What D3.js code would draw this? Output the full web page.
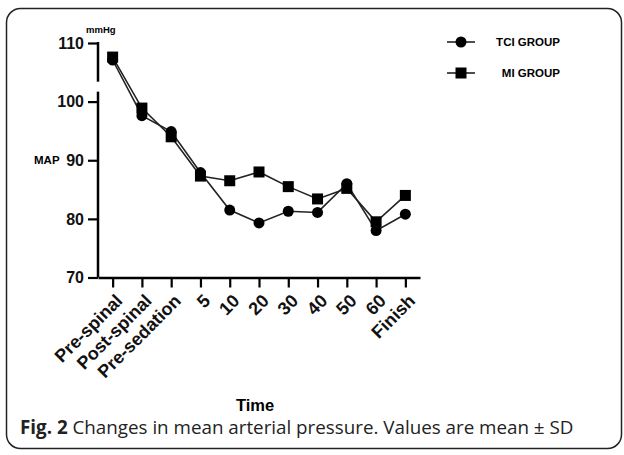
<!DOCTYPE html>
<html>
<head>
<meta charset="utf-8">
<script src="https://cdn.jsdelivr.net/npm/d3@7"></script>
<style>
  body { margin: 0; background: #fff; }
  svg { display: block; }
</style>
</head>
<body>
<div class="chart"></div>
<script>
// time points on the x axis
const timePoints = ['Pre-spinal', 'Post-spinal', 'Pre-sedation', '5', '10', '20', '30', '40', '50', '60', 'Finish']
// mean arterial pressure, mmHg
const tciValues = [107.1, 97.6, 94.9, 87.9, 81.5, 79.3, 81.3, 81.1, 86.0, 78.0, 80.8]
const miValues = [107.6, 98.9, 94.0, 87.3, 86.5, 88.0, 85.5, 83.4, 85.2, 79.5, 84.0]
const yTicks = [70, 80, 90, 100, 110]
const seriesNames = ['TCI GROUP', 'MI GROUP']

const width = 624
const height = 455
const font = 'Liberation Sans, Arial, sans-serif'

const svg = d3.select('.chart')
    .append('svg')
    .attr('width', width)
    .attr('height', height)

// rounded frame round the figure
svg.append('rect')
    .attr('x', 6.5).attr('y', 8.5)
    .attr('width', 615).attr('height', 440)
    .attr('rx', 14)
    .attr('fill', 'none')
    .attr('stroke', '#222')
    .attr('stroke-width', 1.5)

const xScale = d3.scalePoint()
    .domain(timePoints)
    .range([98, 420])
    .padding(0.5)

const yScale = d3.scaleLinear()
    .domain([70, 110])
    .range([277.5, 43])

// x axis
const xAxis = svg.append('g')
    .attr('transform', `translate(0, ${yScale(70)})`)
    .call(d3.axisBottom(xScale).tickSize(10).tickSizeOuter(0))
xAxis.select('.domain').attr('stroke-width', 2.5)
xAxis.selectAll('.tick line').attr('stroke-width', 2.2)
xAxis.selectAll('.tick text')
    .attr('font-family', font)
    .attr('font-weight', 'bold')
    .attr('font-size', 18)
    .attr('fill', '#111')
    .attr('text-anchor', 'end')
    .attr('x', 0).attr('y', 0).attr('dy', '0.35em')
    .attr('transform', 'translate(6, 20) rotate(-45)')

// y axis with a break between 100 and 110
const yAxis = svg.append('g')
    .attr('transform', `translate(${xScale.range()[0]}, 0)`)
    .call(d3.axisLeft(yScale).tickValues(yTicks).tickSize(10).tickSizeOuter(0).tickPadding(4))
yAxis.select('.domain').remove()
yAxis.selectAll('.tick line').attr('stroke-width', 2.2)
yAxis.selectAll('.tick text')
    .attr('font-family', font)
    .attr('font-weight', 'bold')
    .attr('font-size', 16)
    .attr('fill', '#111')

const breakTop = 103.4
const breakBottom = 101.7
yAxis.append('line')
    .attr('x1', 0).attr('x2', 0)
    .attr('y1', yScale(110) - 1).attr('y2', yScale(breakTop))
    .attr('stroke', '#000').attr('stroke-width', 2.5)
yAxis.append('line')
    .attr('x1', 0).attr('x2', 0)
    .attr('y1', yScale(breakBottom)).attr('y2', yScale(70))
    .attr('stroke', '#000').attr('stroke-width', 2.5)

// axis titles
svg.append('text')
    .attr('x', 86).attr('y', 33)
    .attr('font-family', font)
    .attr('font-weight', 'bold').attr('font-size', 9.5)
    .text('mmHg')
svg.append('text')
    .attr('x', 34).attr('y', yScale(90) + 4)
    .attr('font-family', font)
    .attr('font-weight', 'bold').attr('font-size', 11.5)
    .text('MAP')
svg.append('text')
    .attr('x', 255).attr('y', 411)
    .attr('text-anchor', 'middle')
    .attr('font-family', font)
    .attr('font-weight', 'bold').attr('font-size', 16.5)
    .text('Time')

// lines and markers
const line = d3.line()
    .x((d, i) => xScale(timePoints[i]))
    .y(d => yScale(d))

const series = [
    { name: seriesNames[0], values: tciValues, shape: 'circle' },
    { name: seriesNames[1], values: miValues, shape: 'square' }
]

series.forEach(s => {
    svg.append('path')
        .attr('d', line(s.values))
        .attr('fill', 'none')
        .attr('stroke', '#222')
        .attr('stroke-width', 1.6)
})

function drawMarker(g, shape, x, y) {
    if (shape === 'circle') {
        g.append('circle').attr('cx', x).attr('cy', y).attr('r', 5.5).attr('fill', '#000')
    } else {
        g.append('rect').attr('x', x - 5.5).attr('y', y - 5.5)
            .attr('width', 11).attr('height', 11).attr('fill', '#000')
    }
}

series.forEach(s => {
    const g = svg.append('g')
    s.values.forEach((v, i) => drawMarker(g, s.shape, xScale(timePoints[i]), yScale(v)))
})

// legend
const legend = svg.append('g')
series.forEach((s, i) => {
    const ly = 42 + i * 31
    legend.append('line')
        .attr('x1', 447).attr('x2', 475)
        .attr('y1', ly).attr('y2', ly)
        .attr('stroke', '#222').attr('stroke-width', 1.6)
    drawMarker(legend, s.shape, 461, ly)
    legend.append('text')
        .attr('x', 560).attr('y', ly + 4)
        .attr('text-anchor', 'end')
        .attr('font-family', font)
        .attr('font-weight', 'bold').attr('font-size', 11.5)
        .text(s.name)
})

// caption
const caption = svg.append('text')
    .attr('x', 20).attr('y', 434)
    .attr('font-family', 'Open Sans, sans-serif')
    .attr('font-size', 18.8)
    .attr('fill', '#222')
caption.append('tspan').attr('font-weight', 'bold').text('Fig. 2')
caption.append('tspan').text(' Changes in mean arterial pressure. Values are mean \u00b1 SD')
</script>
</body>
</html>
